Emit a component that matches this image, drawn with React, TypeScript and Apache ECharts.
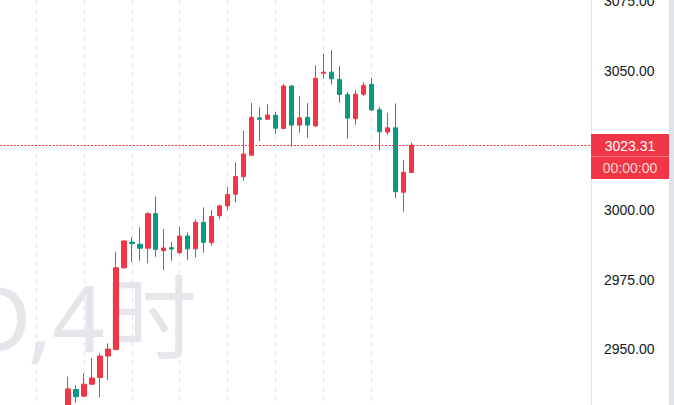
import React, { useEffect, useRef } from "react";
import * as echarts from "echarts";

// ---- data ----
const dayLabels = [
  "2025-03-11", "2025-03-12", "2025-03-13", "2025-03-14", "2025-03-17",
  "2025-03-18", "2025-03-19", "2025-03-20", "2025-03-21", "2025-03-24",
  "2025-03-25", "2025-03-26", "2025-03-27",
];
const hourLabels = ["00:00", "04:00", "08:00", "12:00", "16:00", "20:00"];
const leadingSlots = 8;
const totalSlots = 74;

const opens = [
  2927.0, 2935.6, 2933.2, 2937.5, 2939.9, 2947.6, 2950.0, 2979.3, 2988.5, 2987.7,
  2986.3, 2998.7, 2985.4, 2986.5, 2984.7, 2990.7, 2986.1, 2995.6, 2988.3, 2998.0,
  3001.5, 3005.7, 3012.0, 3019.7, 3033.1, 3032.6, 3034.0, 3029.3, 3044.5, 3030.5,
  3033.3, 3030.2, 3049.1, 3049.5, 3046.9, 3041.4, 3032.8, 3041.6, 3045.1, 3036.0,
  3028.0, 3029.5, 3006.4, 3013.5,
];
const closes = [
  2935.8, 2933.0, 2937.5, 2939.7, 2947.6, 2950.1, 2979.3, 2988.9, 2988.0, 2986.3,
  2998.7, 2985.9, 2986.4, 2986.0, 2990.7, 2986.1, 2995.6, 2988.4, 2997.7, 3001.5,
  3005.6, 3012.0, 3020.1, 3033.3, 3032.6, 3034.1, 3029.4, 3044.5, 3030.5, 3033.1,
  3030.5, 3047.3, 3049.5, 3047.1, 3041.5, 3033.0, 3041.6, 3044.8, 3035.9, 3028.1,
  3029.5, 3006.6, 3013.5, 3023.31,
];
const lows = [
  2925.0, 2930.8, 2933.0, 2937.3, 2932.8, 2939.0, 2949.7, 2978.9, 2981.4, 2981.8,
  2980.9, 2983.2, 2978.4, 2981.8, 2984.2, 2982.1, 2983.0, 2984.7, 2987.2, 2996.7,
  3000.0, 3002.8, 3010.5, 3019.5, 3024.8, 3032.4, 3027.3, 3029.0, 3022.7, 3027.7,
  3026.0, 3030.0, 3047.1, 3045.1, 3038.5, 3025.6, 3030.6, 3040.9, 3035.7, 3021.5,
  3026.9, 3004.2, 2999.4, 3013.3,
];
const highs = [
  2940.2, 2937.1, 2941.4, 2946.9, 2948.6, 2952.2, 2985.0, 2989.2, 2990.2, 2993.8,
  2999.3, 3004.8, 2993.2, 2988.6, 2994.0, 2992.0, 2996.7, 3001.0, 3000.0, 3001.9,
  3008.4, 3017.1, 3028.5, 3038.5, 3036.9, 3037.9, 3035.2, 3045.3, 3044.9, 3041.0,
  3038.4, 3052.0, 3056.2, 3057.4, 3051.7, 3042.4, 3043.1, 3045.9, 3047.5, 3037.1,
  3034.9, 3038.3, 3018.0, 3024.2,
];

const yTicks = [2950, 2975, 3000, 3025, 3050, 3075];
const hiddenTick = 3025;
const lastPrice = 3023.31;
const countdown = "00:00:00";
const watermark = "XAUUSD,4时";

// category labels (4h slots)
const categories: string[] = [];
for (let s = 0; s < totalSlots; s++) {
  const q = s - leadingSlots + 10;
  categories.push(dayLabels[Math.floor(q / 6)] + " " + hourLabels[q % 6]);
}

const UP = "#F23645";
const DOWN = "#089981";
const LABEL_FONT = "'Liberation Sans', Arial, sans-serif";

export default function App() {
  const ref = useRef<HTMLDivElement>(null);
  useEffect(() => {
    const el = ref.current as HTMLDivElement;
    const chart = echarts.init(el, null, { renderer: "svg" });

    const candles = opens.map((o, i) => [i + leadingSlots, o, closes[i], lows[i], highs[i]]);
    const gridLines = categories
      .filter((_, s) => {
        const r = s - leadingSlots;
        return r < opens.length && (((r - 2) % 6) + 6) % 6 === 0;
      })
      .map((name) => ({ xAxis: name }));

    chart.setOption({
      animation: false,
      grid: {
        left: 0,
        right: 83,
        top: 0,
        height: 419,
        containLabel: false,
        outerBoundsMode: "none",
      },
      xAxis: {
        type: "category",
        data: categories,
        boundaryGap: true,
        axisLine: { show: false },
        axisTick: { show: false },
        axisLabel: { show: false },
        splitLine: { show: false },
      },
      yAxis: {
        type: "value",
        position: "right",
        min: 2925,
        max: 3075.4,
        interval: 25,
        axisLine: { show: true, lineStyle: { color: "#e0e3eb", width: 1 } },
        axisTick: { show: false },
        splitLine: { show: false },
        axisLabel: {
          margin: 13,
          color: "#131722",
          fontSize: 14,
          fontFamily: LABEL_FONT,
          formatter: (v: number) =>
            yTicks.indexOf(v) >= 0 && v !== hiddenTick ? v.toFixed(2) : "",
        },
      },
      series: [
        {
          type: "candlestick",
          data: candles,
          encode: { x: 0, y: [1, 2, 3, 4] },
          barWidth: 5,
          itemStyle: {
            color: UP,
            color0: DOWN,
            borderColor: UP,
            borderColor0: DOWN,
            borderWidth: 1,
          },
          markLine: {
            silent: true,
            z: 1,
            symbol: ["none", "none"],
            label: { show: false },
            lineStyle: { color: "#e0e3eb", type: [5, 4], width: 1 },
            data: gridLines,
          },
        },
      ],
    });

    const py = Math.round(chart.convertToPixel({ yAxisIndex: 0 }, lastPrice) as number) + 0.5;
    chart.setOption({
      graphic: [
        {
          type: "text",
          z: 0,
          silent: true,
          x: 197,
          y: 316,
          style: {
            text: watermark,
            fill: "#e5e6ea",
            fontSize: 92,
            fontFamily: "'Noto Sans', 'Noto Sans CJK SC', sans-serif",
            align: "right",
            verticalAlign: "middle",
          },
        },
        {
          type: "line",
          z: 3,
          silent: true,
          shape: { x1: 0, y1: py, x2: 591, y2: py },
          style: { stroke: "#F23645", lineWidth: 1.2, lineDash: [2, 1.5] },
        },
        {
          type: "rect",
          z: 10,
          silent: true,
          shape: { x: 591, y: py - 11.5, width: 78, height: 45 },
          style: { fill: UP },
        },
        {
          type: "line",
          z: 11,
          silent: true,
          shape: { x1: 591, y1: py + 11, x2: 669, y2: py + 11 },
          style: { stroke: "rgba(255,255,255,0.35)", lineWidth: 1 },
        },
        {
          type: "text",
          z: 12,
          silent: true,
          x: 630,
          y: py,
          style: {
            text: lastPrice.toFixed(2),
            fill: "#ffffff",
            fontSize: 14,
            fontFamily: LABEL_FONT,
            align: "center",
            verticalAlign: "middle",
          },
        },
        {
          type: "text",
          z: 12,
          silent: true,
          x: 630,
          y: py + 22,
          style: {
            text: countdown,
            fill: "rgba(255,255,255,0.8)",
            fontSize: 14,
            fontFamily: LABEL_FONT,
            align: "center",
            verticalAlign: "middle",
          },
        },
        {
          type: "rect",
          z: 10,
          silent: true,
          shape: { x: 669, y: 0, width: 5, height: 405 },
          style: { fill: "#e0e3eb" },
        },
      ],
    });

    return () => chart.dispose();
  }, []);

  return (
    <div
      ref={ref}
      style={{ position: "fixed", left: 0, top: 0, width: 674, height: 405, background: "#ffffff" }}
    />
  );
}
